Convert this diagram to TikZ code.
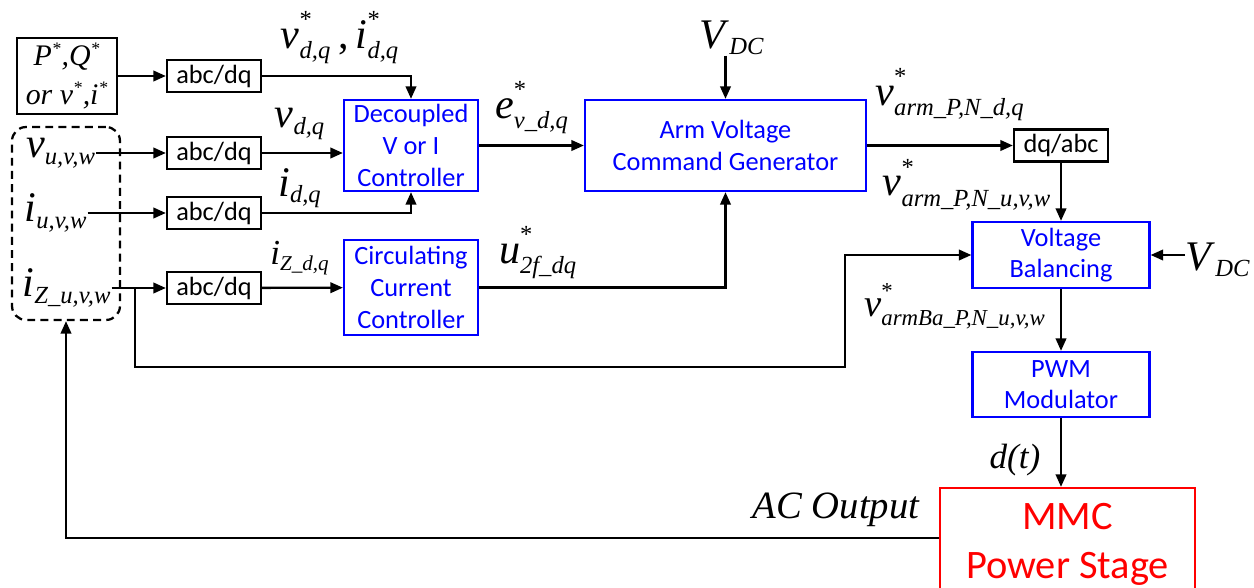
\documentclass[tikz,border=0pt]{standalone}
\usepackage{amsmath}
\usepackage{fontspec}
\setmainfont{Carlito}
\newfontfamily\tmfont{Liberation Serif}
\usetikzlibrary{arrows.meta, positioning}
\definecolor{blkblue}{HTML}{0000FF}
\definecolor{mmcred}{HTML}{FF0000}
\DeclareMathSizes{24}{24}{14}{10}
\DeclareMathSizes{22}{22}{13}{9}
\DeclareMathSizes{20}{20}{12}{8}
\DeclareMathSizes{17}{17}{10}{7}
% segnale con pedice, con e senza asterisco
\newcommand{\sg}[2]{\textit{#1}\ensuremath{_{\text{\itshape #2}}}}
\newcommand{\sgs}[2]{\textit{#1}\ensuremath{^{\text{\raisebox{2.5pt}{*}}}_{\text{\itshape #2}}}}
\newcommand{\st}{\ensuremath{^{\text{*}}}}
\tikzset{
  % blocchi di controllo
  ctrl/.style={draw=blkblue, line width=1.3pt, text=blkblue, align=center,
    font=\fontsize{15}{18}\selectfont, inner sep=0pt},
  % trasformazioni abc/dq
  conv/.style={draw=black, line width=1.3pt, minimum width=1.88cm, minimum height=0.64cm,
    font=\fontsize{15}{18}\selectfont, inner sep=0pt},
  % segnali
  sig/.style={-{Triangle[length=2.5mm, width=2.1mm]}, line width=1.3pt},
  % etichette dei segnali
  lbl/.style={font=\tmfont\fontsize{24}{28}\selectfont, inner sep=0pt},
  lblmid/.style={font=\tmfont\fontsize{22}{26}\selectfont, inner sep=0pt},
  lblsm/.style={font=\tmfont\fontsize{20}{24}\selectfont, inner sep=0pt},
}
\begin{document}
\begin{tikzpicture}[x=0.02cm, y=-0.02cm]
  \useasboundingbox (0,0) rectangle (1254,588);
  % ingressi
  \node[draw, line width=1.3pt, minimum width=2cm, minimum height=1.52cm, align=center,
    inner sep=0pt, font=\tmfont\itshape\fontsize{17}{17}\selectfont] (ref) at (67,76)
    {P\st,Q\st\\[5pt]or v\st,i\st};
  \node[draw, line width=1.3pt, dash pattern=on 4.5pt off 3pt, rounded corners=8pt,
    minimum width=2.16cm, minimum height=3.86cm] (meas) at (66,223.5) {};
  \node[lbl] (vin) at (61,153) {\sg{v}{u,v,w}};
  \node[lbl] (iin) at (56,213) {\sg{i}{u,v,w}};
  \node[lbl] (izin) at (67,288) {\sg{i}{Z\_u,v,w}};
  % trasformazioni
  \node[conv] (c1) at (214,76) {abc/dq};
  \node[conv] (c2) at (214,153) {abc/dq};
  \node[conv] (c3) at (214,213) {abc/dq};
  \node[conv] (c4) at (214,288) {abc/dq};
  \node[conv] (dqabc) at (1061,145.5) {dq/abc};
  % controllori
  \node[ctrl, minimum width=2.68cm, minimum height=1.82cm] (dec) at (411,145.5)
    {Decoupled\\V or I\\Controller};
  \node[ctrl, minimum width=2.68cm, minimum height=1.9cm] (circ) at (411,287.5)
    {Circulating\\Current\\Controller};
  \node[ctrl, minimum width=5.62cm, minimum height=1.82cm] (arm) at (725.5,145.5)
    {Arm Voltage\\Command Generator};
  \node[ctrl, minimum width=3.54cm, minimum height=1.32cm] (vb) at (1061,255)
    {Voltage\\Balancing};
  \node[ctrl, minimum width=3.54cm, minimum height=1.3cm] (pwm) at (1061,384.5)
    {PWM\\Modulator};
  \node[draw=mmcred, line width=1.3pt, text=mmcred, align=center, minimum width=5.1cm,
    minimum height=2.24cm, font=\fontsize{23}{28}\selectfont] (mmc) at (1067.5,544)
    {MMC\\Power Stage};
  % etichette
  \node[lbl] (lref) at (340,38) {\sgs{v}{d,q}\,,\,\sgs{i}{d,q}};
  \node[lbl] (lvdq) at (300,124) {\sg{v}{d,q}};
  \node[lbl] (lidq) at (300,188) {\sg{i}{d,q}};
  \node[lblsm] (lizdq) at (300,258) {\sg{i}{Z\_d,q}};
  \node[lbl] (le) at (532,108) {\sgs{e}{v\_d,q}};
  \node[lbl] (lu) at (538,253) {\sgs{u}{2f\_dq}};
  \node[lbl] (vdc1) at (732,38) {\sg{V}{DC}};
  \node[lbl] (larmdq) at (950,95) {\sgs{v}{arm\_P,N\_d,q}};
  \node[lbl] (larmuvw) at (967,185) {\sgs{v}{arm\_P,N\_u,v,w}};
  \node[lbl] (vdc2) at (1218,260) {\sg{V}{DC}};
  \node[lblmid] (lba) at (955,306) {\sgs{v}{armBa\_P,N\_u,v,w}};
  \node[lblsm] (ldt) at (1015,460) {\textit{d(t)}};
  \node[lblsm, font=\tmfont\itshape\fontsize{22}{26}\selectfont] (lac) at (836,510) {AC Output};
  % collegamenti
  \draw[sig] (ref) -- (c1);
  \draw[sig] (c1) -| (dec);
  \draw[sig] (vin) -- (c2);
  \draw[sig] (iin) -- (c3);
  \draw[sig] (izin.east |- c4) -- (c4);
  \draw[sig] (c2) -- (dec.west |- c2);
  \draw[sig] (c3) -| (dec);
  \draw[sig] (c4) -- (circ);
  \draw[sig] (dec) -- (arm);
  \draw[sig] (circ) -| (arm);
  \draw[sig] (vdc1.south -| arm.north) -- (arm.north);
  \draw[sig] (arm) -- (dqabc);
  \draw[sig] (dqabc) -- (vb);
  \draw[sig] (vdc2.west |- vb) -- (vb.east);
  \draw[sig] (vb) -- (pwm);
  \draw[sig] (pwm) -- (pwm.south |- mmc.north);
  \coordinate (br) at (135,288);
  \coordinate (bb) at (845,367);
  \draw[sig] (br) |- (bb) |- (vb);
  \draw[sig] (mmc.west) ++(0,-6) -| (meas);
\end{tikzpicture}
\end{document}
